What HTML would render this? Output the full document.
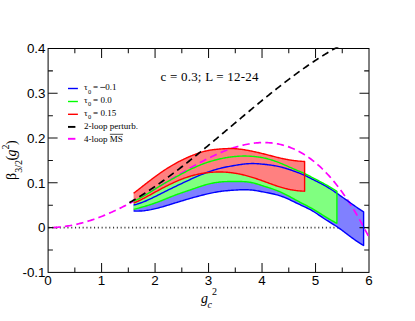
<!DOCTYPE html>
<html><head><meta charset="utf-8"><title>beta function</title>
<style>
html,body{margin:0;padding:0;background:#fff;}
svg{display:block;}
.sans{font-family:"Liberation Sans",sans-serif;font-size:13.4px;fill:#000;}
.serif{font-family:"Liberation Serif",serif;fill:#000;}
</style></head><body>
<svg width="415" height="321" viewBox="0 0 415 321">
<rect width="415" height="321" fill="#fff"/>
<clipPath id="c"><rect x="48.1" y="47.3" width="320.9" height="225.09999999999997"/></clipPath>
<g clip-path="url(#c)">
<path d="M48.1,227.62 H369.0" stroke="#3a3a3a" stroke-width="1.7" stroke-dasharray="1.1 2.7" stroke-dashoffset="-0.3" fill="none"/>
<path d="M133.60,205.00 L134.76,204.74 L135.91,204.46 L137.07,204.14 L138.22,203.79 L139.38,203.42 L140.53,203.03 L141.69,202.61 L142.85,202.17 L144.00,201.71 L145.16,201.23 L146.31,200.74 L147.47,200.23 L148.63,199.70 L149.78,199.16 L150.94,198.62 L152.09,198.06 L153.25,197.49 L154.40,196.92 L155.56,196.34 L156.72,195.76 L157.87,195.18 L159.03,194.59 L160.18,194.01 L161.34,193.43 L162.49,192.85 L163.65,192.27 L164.81,191.70 L165.96,191.12 L167.12,190.55 L168.27,189.98 L169.43,189.41 L170.58,188.85 L171.74,188.28 L172.90,187.72 L174.05,187.16 L175.21,186.60 L176.36,186.04 L177.52,185.48 L178.68,184.93 L179.83,184.37 L180.99,183.82 L182.14,183.27 L183.30,182.72 L184.45,182.18 L185.61,181.63 L186.77,181.09 L187.92,180.56 L189.08,180.02 L190.23,179.49 L191.39,178.97 L192.54,178.44 L193.70,177.92 L194.86,177.41 L196.01,176.90 L197.17,176.40 L198.32,175.91 L199.48,175.42 L200.64,174.94 L201.79,174.46 L202.95,174.00 L204.10,173.55 L205.26,173.10 L206.41,172.67 L207.57,172.24 L208.73,171.83 L209.88,171.43 L211.04,171.04 L212.19,170.66 L213.35,170.29 L214.50,169.93 L215.66,169.58 L216.82,169.25 L217.97,168.93 L219.13,168.62 L220.28,168.33 L221.44,168.05 L222.59,167.78 L223.75,167.52 L224.91,167.27 L226.06,167.03 L227.22,166.80 L228.37,166.57 L229.53,166.36 L230.69,166.15 L231.84,165.94 L233.00,165.74 L234.15,165.54 L235.31,165.35 L236.46,165.16 L237.62,164.97 L238.78,164.78 L239.93,164.61 L241.09,164.44 L242.24,164.28 L243.40,164.14 L244.55,164.01 L245.71,163.89 L246.87,163.78 L248.02,163.70 L249.18,163.63 L250.33,163.59 L251.49,163.56 L252.65,163.56 L253.80,163.57 L254.96,163.61 L256.11,163.65 L257.27,163.72 L258.42,163.79 L259.58,163.88 L260.74,163.97 L261.89,164.08 L263.05,164.19 L264.20,164.31 L265.36,164.44 L266.51,164.57 L267.67,164.70 L268.83,164.85 L269.98,165.00 L271.14,165.16 L272.29,165.33 L273.45,165.51 L274.61,165.70 L275.76,165.91 L276.92,166.13 L278.07,166.37 L279.23,166.62 L280.38,166.89 L281.54,167.18 L282.70,167.49 L283.85,167.82 L285.01,168.15 L286.16,168.51 L287.32,168.87 L288.47,169.25 L289.63,169.63 L290.79,170.02 L291.94,170.42 L293.10,170.83 L294.25,171.23 L295.41,171.65 L296.56,172.06 L297.72,172.48 L298.88,172.91 L300.03,173.36 L301.19,173.82 L302.34,174.30 L303.50,174.80 L304.66,175.33 L305.81,175.88 L306.97,176.45 L308.12,177.04 L309.28,177.63 L310.43,178.22 L311.59,178.80 L312.75,179.38 L313.90,179.95 L315.06,180.52 L316.21,181.09 L317.37,181.67 L318.52,182.25 L319.68,182.84 L320.84,183.44 L321.99,184.04 L323.15,184.67 L324.30,185.31 L325.46,185.96 L326.62,186.64 L327.77,187.33 L328.93,188.04 L330.08,188.77 L331.24,189.51 L332.39,190.26 L333.55,191.02 L334.71,191.80 L335.86,192.59 L337.02,193.38 L338.17,194.18 L339.33,194.99 L340.48,195.81 L341.64,196.62 L342.80,197.45 L343.95,198.27 L345.11,199.10 L346.26,199.93 L347.42,200.76 L348.57,201.58 L349.73,202.41 L350.89,203.23 L352.04,204.05 L353.20,204.86 L354.35,205.67 L355.51,206.47 L356.67,207.26 L357.82,208.05 L358.98,208.82 L360.13,209.58 L361.29,210.33 L362.44,211.07 L363.60,211.80 L363.60,245.50 L362.44,244.84 L361.29,244.16 L360.13,243.44 L358.98,242.70 L357.82,241.93 L356.67,241.15 L355.51,240.34 L354.35,239.51 L353.20,238.68 L352.04,237.83 L350.89,236.96 L349.73,236.10 L348.57,235.23 L347.42,234.35 L346.26,233.48 L345.11,232.60 L343.95,231.74 L342.80,230.88 L341.64,230.03 L340.48,229.19 L339.33,228.37 L338.17,227.56 L337.02,226.78 L335.86,226.01 L334.71,225.27 L333.55,224.54 L332.39,223.82 L331.24,223.10 L330.08,222.39 L328.93,221.68 L327.77,220.96 L326.62,220.24 L325.46,219.50 L324.30,218.74 L323.15,217.97 L321.99,217.19 L320.84,216.40 L319.68,215.61 L318.52,214.82 L317.37,214.03 L316.21,213.26 L315.06,212.51 L313.90,211.77 L312.75,211.06 L311.59,210.38 L310.43,209.73 L309.28,209.12 L308.12,208.55 L306.97,208.00 L305.81,207.46 L304.66,206.93 L303.50,206.39 L302.34,205.84 L301.19,205.29 L300.03,204.74 L298.88,204.18 L297.72,203.62 L296.56,203.06 L295.41,202.50 L294.25,201.94 L293.10,201.38 L291.94,200.82 L290.79,200.27 L289.63,199.73 L288.47,199.20 L287.32,198.68 L286.16,198.17 L285.01,197.68 L283.85,197.21 L282.70,196.76 L281.54,196.33 L280.38,195.93 L279.23,195.55 L278.07,195.20 L276.92,194.87 L275.76,194.56 L274.61,194.28 L273.45,194.01 L272.29,193.75 L271.14,193.50 L269.98,193.27 L268.83,193.04 L267.67,192.81 L266.51,192.59 L265.36,192.37 L264.20,192.15 L263.05,191.92 L261.89,191.70 L260.74,191.47 L259.58,191.26 L258.42,191.05 L257.27,190.84 L256.11,190.65 L254.96,190.47 L253.80,190.31 L252.65,190.16 L251.49,190.03 L250.33,189.93 L249.18,189.84 L248.02,189.78 L246.87,189.74 L245.71,189.71 L244.55,189.71 L243.40,189.72 L242.24,189.74 L241.09,189.78 L239.93,189.82 L238.78,189.88 L237.62,189.94 L236.46,190.01 L235.31,190.08 L234.15,190.15 L233.00,190.23 L231.84,190.31 L230.69,190.39 L229.53,190.48 L228.37,190.57 L227.22,190.68 L226.06,190.78 L224.91,190.90 L223.75,191.02 L222.59,191.16 L221.44,191.30 L220.28,191.46 L219.13,191.63 L217.97,191.81 L216.82,192.00 L215.66,192.21 L214.50,192.42 L213.35,192.64 L212.19,192.88 L211.04,193.12 L209.88,193.37 L208.73,193.63 L207.57,193.89 L206.41,194.16 L205.26,194.44 L204.10,194.72 L202.95,195.01 L201.79,195.30 L200.64,195.59 L199.48,195.89 L198.32,196.20 L197.17,196.51 L196.01,196.82 L194.86,197.13 L193.70,197.45 L192.54,197.78 L191.39,198.10 L190.23,198.43 L189.08,198.77 L187.92,199.10 L186.77,199.44 L185.61,199.78 L184.45,200.12 L183.30,200.47 L182.14,200.81 L180.99,201.16 L179.83,201.51 L178.68,201.87 L177.52,202.22 L176.36,202.58 L175.21,202.94 L174.05,203.29 L172.90,203.65 L171.74,204.01 L170.58,204.37 L169.43,204.73 L168.27,205.09 L167.12,205.44 L165.96,205.79 L164.81,206.13 L163.65,206.47 L162.49,206.80 L161.34,207.13 L160.18,207.45 L159.03,207.76 L157.87,208.06 L156.72,208.36 L155.56,208.64 L154.40,208.91 L153.25,209.17 L152.09,209.41 L150.94,209.65 L149.78,209.86 L148.63,210.07 L147.47,210.26 L146.31,210.43 L145.16,210.58 L144.00,210.72 L142.85,210.83 L141.69,210.93 L140.53,211.01 L139.38,211.06 L138.22,211.10 L137.07,211.11 L135.91,211.10 L134.76,211.06 L133.60,211.00 Z" fill="#8080ff"/>
<path d="M133.60,201.20 L134.62,200.76 L135.64,200.30 L136.66,199.82 L137.69,199.32 L138.71,198.81 L139.73,198.27 L140.75,197.72 L141.77,197.16 L142.79,196.58 L143.82,196.00 L144.84,195.40 L145.86,194.79 L146.88,194.17 L147.90,193.54 L148.92,192.91 L149.95,192.28 L150.97,191.64 L151.99,190.99 L153.01,190.35 L154.03,189.71 L155.05,189.06 L156.08,188.42 L157.10,187.78 L158.12,187.15 L159.14,186.52 L160.16,185.90 L161.18,185.29 L162.21,184.68 L163.23,184.08 L164.25,183.49 L165.27,182.90 L166.29,182.32 L167.31,181.75 L168.33,181.17 L169.36,180.60 L170.38,180.04 L171.40,179.47 L172.42,178.91 L173.44,178.35 L174.46,177.79 L175.49,177.23 L176.51,176.68 L177.53,176.12 L178.55,175.56 L179.57,175.01 L180.59,174.46 L181.62,173.91 L182.64,173.37 L183.66,172.83 L184.68,172.29 L185.70,171.76 L186.72,171.24 L187.75,170.72 L188.77,170.21 L189.79,169.70 L190.81,169.21 L191.83,168.72 L192.85,168.24 L193.87,167.76 L194.90,167.30 L195.92,166.84 L196.94,166.39 L197.96,165.96 L198.98,165.53 L200.00,165.11 L201.03,164.70 L202.05,164.30 L203.07,163.91 L204.09,163.53 L205.11,163.16 L206.13,162.80 L207.16,162.45 L208.18,162.12 L209.20,161.79 L210.22,161.47 L211.24,161.16 L212.26,160.87 L213.29,160.58 L214.31,160.30 L215.33,160.03 L216.35,159.77 L217.37,159.51 L218.39,159.27 L219.42,159.03 L220.44,158.80 L221.46,158.58 L222.48,158.37 L223.50,158.17 L224.52,157.97 L225.54,157.79 L226.57,157.61 L227.59,157.44 L228.61,157.28 L229.63,157.13 L230.65,156.99 L231.67,156.86 L232.70,156.74 L233.72,156.63 L234.74,156.52 L235.76,156.43 L236.78,156.35 L237.80,156.28 L238.83,156.22 L239.85,156.17 L240.87,156.13 L241.89,156.09 L242.91,156.07 L243.93,156.06 L244.96,156.06 L245.98,156.07 L247.00,156.09 L248.02,156.12 L249.04,156.16 L250.06,156.20 L251.08,156.26 L252.11,156.33 L253.13,156.41 L254.15,156.50 L255.17,156.60 L256.19,156.71 L257.21,156.84 L258.24,156.97 L259.26,157.12 L260.28,157.28 L261.30,157.46 L262.32,157.64 L263.34,157.84 L264.37,158.06 L265.39,158.29 L266.41,158.53 L267.43,158.79 L268.45,159.06 L269.47,159.35 L270.50,159.65 L271.52,159.96 L272.54,160.28 L273.56,160.62 L274.58,160.97 L275.60,161.33 L276.63,161.70 L277.65,162.08 L278.67,162.47 L279.69,162.88 L280.71,163.29 L281.73,163.71 L282.75,164.14 L283.78,164.58 L284.80,165.02 L285.82,165.47 L286.84,165.92 L287.86,166.37 L288.88,166.83 L289.91,167.28 L290.93,167.73 L291.95,168.18 L292.97,168.63 L293.99,169.07 L295.01,169.51 L296.04,169.93 L297.06,170.36 L298.08,170.78 L299.10,171.20 L300.12,171.63 L301.14,172.06 L302.17,172.50 L303.19,172.95 L304.21,173.42 L305.23,173.90 L306.25,174.40 L307.27,174.91 L308.29,175.42 L309.32,175.95 L310.34,176.47 L311.36,177.00 L312.38,177.53 L313.40,178.05 L314.42,178.58 L315.45,179.11 L316.47,179.64 L317.49,180.17 L318.51,180.71 L319.53,181.25 L320.55,181.79 L321.58,182.33 L322.60,182.88 L323.62,183.44 L324.64,184.00 L325.66,184.57 L326.68,185.14 L327.71,185.72 L328.73,186.31 L329.75,186.90 L330.77,187.50 L331.79,188.11 L332.81,188.73 L333.84,189.36 L334.86,190.00 L335.88,190.64 L336.90,191.30 L336.90,223.30 L335.88,222.79 L334.86,222.26 L333.84,221.72 L332.81,221.16 L331.79,220.59 L330.77,220.00 L329.75,219.40 L328.73,218.79 L327.71,218.17 L326.68,217.55 L325.66,216.91 L324.64,216.28 L323.62,215.63 L322.60,214.99 L321.58,214.35 L320.55,213.70 L319.53,213.06 L318.51,212.42 L317.49,211.79 L316.47,211.16 L315.45,210.54 L314.42,209.92 L313.40,209.32 L312.38,208.73 L311.36,208.15 L310.34,207.58 L309.32,207.03 L308.29,206.50 L307.27,205.97 L306.25,205.44 L305.23,204.92 L304.21,204.40 L303.19,203.87 L302.17,203.34 L301.14,202.80 L300.12,202.26 L299.10,201.72 L298.08,201.17 L297.06,200.62 L296.04,200.06 L295.01,199.51 L293.99,198.95 L292.97,198.39 L291.95,197.83 L290.93,197.27 L289.91,196.72 L288.88,196.17 L287.86,195.63 L286.84,195.09 L285.82,194.57 L284.80,194.05 L283.78,193.54 L282.75,193.05 L281.73,192.57 L280.71,192.11 L279.69,191.67 L278.67,191.24 L277.65,190.83 L276.63,190.43 L275.60,190.05 L274.58,189.67 L273.56,189.31 L272.54,188.96 L271.52,188.62 L270.50,188.28 L269.47,187.94 L268.45,187.61 L267.43,187.28 L266.41,186.96 L265.39,186.63 L264.37,186.29 L263.34,185.96 L262.32,185.63 L261.30,185.29 L260.28,184.97 L259.26,184.64 L258.24,184.33 L257.21,184.02 L256.19,183.73 L255.17,183.45 L254.15,183.18 L253.13,182.94 L252.11,182.71 L251.08,182.50 L250.06,182.31 L249.04,182.15 L248.02,182.01 L247.00,181.89 L245.98,181.79 L244.96,181.71 L243.93,181.65 L242.91,181.60 L241.89,181.56 L240.87,181.53 L239.85,181.51 L238.83,181.50 L237.80,181.50 L236.78,181.50 L235.76,181.50 L234.74,181.50 L233.72,181.50 L232.70,181.50 L231.67,181.51 L230.65,181.51 L229.63,181.52 L228.61,181.54 L227.59,181.56 L226.57,181.59 L225.54,181.62 L224.52,181.67 L223.50,181.72 L222.48,181.79 L221.46,181.87 L220.44,181.96 L219.42,182.06 L218.39,182.18 L217.37,182.32 L216.35,182.47 L215.33,182.63 L214.31,182.81 L213.29,183.00 L212.26,183.20 L211.24,183.42 L210.22,183.64 L209.20,183.88 L208.18,184.14 L207.16,184.40 L206.13,184.68 L205.11,184.97 L204.09,185.27 L203.07,185.58 L202.05,185.89 L201.03,186.22 L200.00,186.55 L198.98,186.89 L197.96,187.24 L196.94,187.59 L195.92,187.94 L194.90,188.30 L193.87,188.65 L192.85,189.01 L191.83,189.37 L190.81,189.72 L189.79,190.07 L188.77,190.42 L187.75,190.77 L186.72,191.11 L185.70,191.46 L184.68,191.80 L183.66,192.14 L182.64,192.49 L181.62,192.84 L180.59,193.19 L179.57,193.54 L178.55,193.90 L177.53,194.27 L176.51,194.64 L175.49,195.02 L174.46,195.40 L173.44,195.80 L172.42,196.20 L171.40,196.60 L170.38,197.01 L169.36,197.43 L168.33,197.84 L167.31,198.26 L166.29,198.68 L165.27,199.10 L164.25,199.51 L163.23,199.92 L162.21,200.33 L161.18,200.74 L160.16,201.14 L159.14,201.53 L158.12,201.91 L157.10,202.29 L156.08,202.66 L155.05,203.03 L154.03,203.39 L153.01,203.74 L151.99,204.09 L150.97,204.43 L149.95,204.76 L148.92,205.09 L147.90,205.41 L146.88,205.73 L145.86,206.04 L144.84,206.35 L143.82,206.65 L142.79,206.95 L141.77,207.24 L140.75,207.52 L139.73,207.80 L138.71,208.08 L137.69,208.35 L136.66,208.62 L135.64,208.88 L134.62,209.14 L133.60,209.40 Z" fill="#80ff80"/>
<path d="M133.60,193.30 L134.46,192.63 L135.32,191.96 L136.18,191.29 L137.04,190.62 L137.90,189.95 L138.76,189.28 L139.62,188.61 L140.47,187.93 L141.33,187.26 L142.19,186.59 L143.05,185.92 L143.91,185.25 L144.77,184.58 L145.63,183.91 L146.49,183.24 L147.35,182.58 L148.21,181.92 L149.07,181.26 L149.93,180.60 L150.79,179.95 L151.65,179.30 L152.50,178.65 L153.36,178.01 L154.22,177.37 L155.08,176.74 L155.94,176.11 L156.80,175.48 L157.66,174.86 L158.52,174.25 L159.38,173.64 L160.24,173.03 L161.10,172.44 L161.96,171.84 L162.82,171.26 L163.68,170.68 L164.53,170.11 L165.39,169.54 L166.25,168.98 L167.11,168.43 L167.97,167.88 L168.83,167.35 L169.69,166.82 L170.55,166.29 L171.41,165.77 L172.27,165.27 L173.13,164.76 L173.99,164.27 L174.85,163.79 L175.71,163.31 L176.56,162.84 L177.42,162.38 L178.28,161.92 L179.14,161.48 L180.00,161.04 L180.86,160.60 L181.72,160.18 L182.58,159.76 L183.44,159.35 L184.30,158.94 L185.16,158.54 L186.02,158.15 L186.88,157.76 L187.74,157.38 L188.59,157.00 L189.45,156.63 L190.31,156.27 L191.17,155.91 L192.03,155.55 L192.89,155.21 L193.75,154.86 L194.61,154.53 L195.47,154.20 L196.33,153.88 L197.19,153.57 L198.05,153.27 L198.91,152.98 L199.77,152.69 L200.63,152.42 L201.48,152.16 L202.34,151.91 L203.20,151.67 L204.06,151.44 L204.92,151.22 L205.78,151.01 L206.64,150.82 L207.50,150.64 L208.36,150.47 L209.22,150.31 L210.08,150.16 L210.94,150.02 L211.80,149.89 L212.66,149.77 L213.51,149.65 L214.37,149.55 L215.23,149.45 L216.09,149.36 L216.95,149.27 L217.81,149.19 L218.67,149.11 L219.53,149.04 L220.39,148.97 L221.25,148.91 L222.11,148.85 L222.97,148.79 L223.83,148.74 L224.69,148.69 L225.54,148.65 L226.40,148.62 L227.26,148.59 L228.12,148.57 L228.98,148.56 L229.84,148.56 L230.70,148.56 L231.56,148.57 L232.42,148.59 L233.28,148.62 L234.14,148.65 L235.00,148.70 L235.86,148.76 L236.72,148.82 L237.57,148.90 L238.43,148.98 L239.29,149.08 L240.15,149.18 L241.01,149.29 L241.87,149.41 L242.73,149.53 L243.59,149.66 L244.45,149.80 L245.31,149.94 L246.17,150.09 L247.03,150.24 L247.89,150.40 L248.75,150.56 L249.61,150.72 L250.46,150.89 L251.32,151.06 L252.18,151.24 L253.04,151.42 L253.90,151.60 L254.76,151.78 L255.62,151.97 L256.48,152.16 L257.34,152.36 L258.20,152.55 L259.06,152.75 L259.92,152.95 L260.78,153.16 L261.64,153.37 L262.49,153.58 L263.35,153.79 L264.21,154.00 L265.07,154.22 L265.93,154.44 L266.79,154.66 L267.65,154.88 L268.51,155.10 L269.37,155.33 L270.23,155.55 L271.09,155.78 L271.95,156.00 L272.81,156.22 L273.67,156.44 L274.52,156.66 L275.38,156.88 L276.24,157.10 L277.10,157.31 L277.96,157.52 L278.82,157.72 L279.68,157.93 L280.54,158.12 L281.40,158.32 L282.26,158.51 L283.12,158.69 L283.98,158.87 L284.84,159.04 L285.70,159.21 L286.55,159.37 L287.41,159.53 L288.27,159.69 L289.13,159.84 L289.99,159.98 L290.85,160.12 L291.71,160.25 L292.57,160.37 L293.43,160.49 L294.29,160.61 L295.15,160.72 L296.01,160.82 L296.87,160.92 L297.73,161.01 L298.58,161.09 L299.44,161.17 L300.30,161.24 L301.16,161.31 L302.02,161.37 L302.88,161.42 L303.74,161.46 L304.60,161.50 L304.60,191.20 L303.74,191.17 L302.88,191.14 L302.02,191.10 L301.16,191.04 L300.30,190.98 L299.44,190.91 L298.58,190.83 L297.73,190.74 L296.87,190.64 L296.01,190.54 L295.15,190.42 L294.29,190.30 L293.43,190.16 L292.57,190.02 L291.71,189.87 L290.85,189.71 L289.99,189.55 L289.13,189.37 L288.27,189.19 L287.41,188.99 L286.55,188.79 L285.70,188.58 L284.84,188.37 L283.98,188.14 L283.12,187.91 L282.26,187.67 L281.40,187.42 L280.54,187.16 L279.68,186.90 L278.82,186.63 L277.96,186.35 L277.10,186.07 L276.24,185.77 L275.38,185.48 L274.52,185.18 L273.67,184.87 L272.81,184.57 L271.95,184.25 L271.09,183.94 L270.23,183.63 L269.37,183.31 L268.51,182.99 L267.65,182.67 L266.79,182.36 L265.93,182.04 L265.07,181.73 L264.21,181.41 L263.35,181.10 L262.49,180.80 L261.64,180.49 L260.78,180.19 L259.92,179.89 L259.06,179.60 L258.20,179.30 L257.34,179.01 L256.48,178.73 L255.62,178.45 L254.76,178.17 L253.90,177.89 L253.04,177.62 L252.18,177.36 L251.32,177.09 L250.46,176.84 L249.61,176.58 L248.75,176.34 L247.89,176.09 L247.03,175.86 L246.17,175.62 L245.31,175.40 L244.45,175.18 L243.59,174.96 L242.73,174.75 L241.87,174.55 L241.01,174.36 L240.15,174.17 L239.29,173.99 L238.43,173.82 L237.57,173.65 L236.72,173.49 L235.86,173.34 L235.00,173.20 L234.14,173.07 L233.28,172.94 L232.42,172.82 L231.56,172.72 L230.70,172.61 L229.84,172.52 L228.98,172.44 L228.12,172.36 L227.26,172.29 L226.40,172.23 L225.54,172.17 L224.69,172.13 L223.83,172.09 L222.97,172.06 L222.11,172.03 L221.25,172.01 L220.39,172.00 L219.53,172.00 L218.67,172.00 L217.81,172.01 L216.95,172.03 L216.09,172.05 L215.23,172.08 L214.37,172.12 L213.51,172.16 L212.66,172.22 L211.80,172.28 L210.94,172.34 L210.08,172.42 L209.22,172.50 L208.36,172.58 L207.50,172.68 L206.64,172.78 L205.78,172.89 L204.92,173.01 L204.06,173.14 L203.20,173.27 L202.34,173.41 L201.48,173.56 L200.63,173.71 L199.77,173.88 L198.91,174.05 L198.05,174.23 L197.19,174.42 L196.33,174.61 L195.47,174.81 L194.61,175.03 L193.75,175.24 L192.89,175.47 L192.03,175.71 L191.17,175.95 L190.31,176.21 L189.45,176.47 L188.59,176.74 L187.74,177.01 L186.88,177.30 L186.02,177.59 L185.16,177.89 L184.30,178.20 L183.44,178.52 L182.58,178.84 L181.72,179.18 L180.86,179.51 L180.00,179.86 L179.14,180.21 L178.28,180.57 L177.42,180.94 L176.56,181.31 L175.71,181.69 L174.85,182.07 L173.99,182.46 L173.13,182.86 L172.27,183.26 L171.41,183.66 L170.55,184.08 L169.69,184.49 L168.83,184.92 L167.97,185.34 L167.11,185.77 L166.25,186.21 L165.39,186.65 L164.53,187.09 L163.68,187.54 L162.82,187.99 L161.96,188.45 L161.10,188.91 L160.24,189.37 L159.38,189.84 L158.52,190.30 L157.66,190.77 L156.80,191.25 L155.94,191.72 L155.08,192.19 L154.22,192.67 L153.36,193.14 L152.50,193.62 L151.65,194.09 L150.79,194.57 L149.93,195.04 L149.07,195.51 L148.21,195.98 L147.35,196.44 L146.49,196.91 L145.63,197.37 L144.77,197.82 L143.91,198.27 L143.05,198.72 L142.19,199.16 L141.33,199.59 L140.47,200.02 L139.62,200.45 L138.76,200.86 L137.90,201.27 L137.04,201.68 L136.18,202.07 L135.32,202.46 L134.46,202.83 L133.60,203.20 Z" fill="#ff8080"/>
</g>
<rect x="48.1" y="48.5" width="320.9" height="223.89999999999998" fill="none" stroke="#000" stroke-width="1"/>
<path d="M74.84,272.4 v-4.8 M74.84,48.5 v4.8 M101.58,272.4 v-9.5 M101.58,48.5 v9.5 M128.32,272.4 v-4.8 M128.32,48.5 v4.8 M155.07,272.4 v-9.5 M155.07,48.5 v9.5 M181.81,272.4 v-4.8 M181.81,48.5 v4.8 M208.55,272.4 v-9.5 M208.55,48.5 v9.5 M235.29,272.4 v-4.8 M235.29,48.5 v4.8 M262.03,272.4 v-9.5 M262.03,48.5 v9.5 M288.77,272.4 v-4.8 M288.77,48.5 v4.8 M315.52,272.4 v-9.5 M315.52,48.5 v9.5 M342.26,272.4 v-4.8 M342.26,48.5 v4.8 M48.1,250.01 h4.8 M369.0,250.01 h-4.8 M48.1,227.62 h9.5 M369.0,227.62 h-9.5 M48.1,205.23 h4.8 M369.0,205.23 h-4.8 M48.1,182.84 h9.5 M369.0,182.84 h-9.5 M48.1,160.45 h4.8 M369.0,160.45 h-4.8 M48.1,138.06 h9.5 M369.0,138.06 h-9.5 M48.1,115.67 h4.8 M369.0,115.67 h-4.8 M48.1,93.28 h9.5 M369.0,93.28 h-9.5 M48.1,70.89 h4.8 M369.0,70.89 h-4.8" stroke="#111" stroke-width="1.05" fill="none"/>
<g clip-path="url(#c)">
<path d="M49.30,227.61 L50.64,227.59 L51.97,227.56 L53.31,227.50 L54.65,227.44 L55.99,227.36 L57.32,227.26 L58.66,227.15 L60.00,227.02 L61.34,226.88 L62.67,226.73 L64.01,226.56 L65.35,226.37 L66.69,226.18 L68.03,225.96 L69.36,225.74 L70.70,225.50 L72.04,225.25 L73.38,224.98 L74.71,224.70 L76.05,224.40 L77.39,224.10 L78.73,223.78 L80.06,223.44 L81.40,223.10 L82.74,222.74 L84.08,222.37 L85.41,221.99 L86.75,221.59 L88.09,221.18 L89.43,220.76 L90.77,220.33 L92.10,219.89 L93.44,219.43 L94.78,218.96 L96.12,218.48 L97.45,218.00 L98.79,217.50 L100.13,216.98 L101.47,216.46 L102.80,215.93 L104.14,215.39 L105.48,214.83 L106.82,214.27 L108.16,213.70 L109.49,213.12 L110.83,212.52 L112.17,211.92 L113.51,211.31 L114.84,210.69 L116.18,210.06 L117.52,209.43 L118.86,208.78 L120.19,208.13 L121.53,207.47 L122.87,206.80 L124.21,206.12 L125.54,205.43 L126.88,204.74 L128.22,204.04 L129.56,203.34 L130.90,202.63 L132.23,201.91 L133.57,201.18 L134.91,200.45 L136.25,199.71 L137.58,198.97 L138.92,198.22 L140.26,197.47 L141.60,196.71 L142.93,195.95 L144.27,195.18 L145.61,194.41 L146.95,193.64 L148.29,192.86 L149.62,192.08 L150.96,191.29 L152.30,190.51 L153.64,189.71 L154.97,188.92 L156.31,188.12 L157.65,187.33 L158.99,186.53 L160.32,185.73 L161.66,184.92 L163.00,184.12 L164.34,183.32 L165.67,182.51 L167.01,181.71 L168.35,180.90 L169.69,180.10 L171.03,179.30 L172.36,178.49 L173.70,177.69 L175.04,176.89 L176.38,176.10 L177.71,175.30 L179.05,174.51 L180.39,173.71 L181.73,172.93 L183.06,172.14 L184.40,171.36 L185.74,170.58 L187.08,169.81 L188.42,169.04 L189.75,168.27 L191.09,167.51 L192.43,166.76 L193.77,166.01 L195.10,165.27 L196.44,164.53 L197.78,163.80 L199.12,163.08 L200.45,162.36 L201.79,161.65 L203.13,160.95 L204.47,160.25 L205.80,159.57 L207.14,158.89 L208.48,158.22 L209.82,157.57 L211.16,156.92 L212.49,156.28 L213.83,155.65 L215.17,155.03 L216.51,154.42 L217.84,153.83 L219.18,153.24 L220.52,152.67 L221.86,152.11 L223.19,151.56 L224.53,151.03 L225.87,150.51 L227.21,150.00 L228.55,149.50 L229.88,149.02 L231.22,148.56 L232.56,148.10 L233.90,147.67 L235.23,147.25 L236.57,146.84 L237.91,146.45 L239.25,146.08 L240.58,145.73 L241.92,145.39 L243.26,145.07 L244.60,144.77 L245.93,144.48 L247.27,144.21 L248.61,143.97 L249.95,143.74 L251.29,143.53 L252.62,143.34 L253.96,143.17 L255.30,143.02 L256.64,142.90 L257.97,142.79 L259.31,142.71 L260.65,142.64 L261.99,142.60 L263.32,142.58 L264.66,142.59 L266.00,142.61 L267.34,142.66 L268.68,142.74 L270.01,142.84 L271.35,142.96 L272.69,143.11 L274.03,143.28 L275.36,143.48 L276.70,143.70 L278.04,143.95 L279.38,144.23 L280.71,144.53 L282.05,144.86 L283.39,145.22 L284.73,145.60 L286.06,146.01 L287.40,146.46 L288.74,146.92 L290.08,147.42 L291.42,147.95 L292.75,148.50 L294.09,149.09 L295.43,149.71 L296.77,150.35 L298.10,151.03 L299.44,151.74 L300.78,152.48 L302.12,153.25 L303.45,154.05 L304.79,154.88 L306.13,155.75 L307.47,156.65 L308.81,157.58 L310.14,158.54 L311.48,159.54 L312.82,160.57 L314.16,161.64 L315.49,162.73 L316.83,163.87 L318.17,165.04 L319.51,166.24 L320.84,167.48 L322.18,168.75 L323.52,170.06 L324.86,171.41 L326.19,172.79 L327.53,174.21 L328.87,175.66 L330.21,177.15 L331.55,178.68 L332.88,180.25 L334.22,181.85 L335.56,183.49 L336.90,185.17 L338.23,186.89 L339.57,188.64 L340.91,190.44 L342.25,192.27 L343.58,194.14 L344.92,196.05 L346.26,198.00 L347.60,199.99 L348.94,202.02 L350.27,204.09 L351.61,206.20 L352.95,208.35 L354.29,210.54 L355.62,212.77 L356.96,215.04 L358.30,217.35 L359.64,219.70 L360.97,222.10 L362.31,224.53 L363.65,227.01 L364.99,229.53 L366.32,232.09 L367.66,234.69 L369.00,237.34" fill="none" stroke="#ff00ff" stroke-width="1.7" stroke-dasharray="7.3 4.25" stroke-dashoffset="7.4"/>
<path d="M133.60,205.00 L134.76,204.74 L135.91,204.46 L137.07,204.14 L138.22,203.79 L139.38,203.42 L140.53,203.03 L141.69,202.61 L142.85,202.17 L144.00,201.71 L145.16,201.23 L146.31,200.74 L147.47,200.23 L148.63,199.70 L149.78,199.16 L150.94,198.62 L152.09,198.06 L153.25,197.49 L154.40,196.92 L155.56,196.34 L156.72,195.76 L157.87,195.18 L159.03,194.59 L160.18,194.01 L161.34,193.43 L162.49,192.85 L163.65,192.27 L164.81,191.70 L165.96,191.12 L167.12,190.55 L168.27,189.98 L169.43,189.41 L170.58,188.85 L171.74,188.28 L172.90,187.72 L174.05,187.16 L175.21,186.60 L176.36,186.04 L177.52,185.48 L178.68,184.93 L179.83,184.37 L180.99,183.82 L182.14,183.27 L183.30,182.72 L184.45,182.18 L185.61,181.63 L186.77,181.09 L187.92,180.56 L189.08,180.02 L190.23,179.49 L191.39,178.97 L192.54,178.44 L193.70,177.92 L194.86,177.41 L196.01,176.90 L197.17,176.40 L198.32,175.91 L199.48,175.42 L200.64,174.94 L201.79,174.46 L202.95,174.00 L204.10,173.55 L205.26,173.10 L206.41,172.67 L207.57,172.24 L208.73,171.83 L209.88,171.43 L211.04,171.04 L212.19,170.66 L213.35,170.29 L214.50,169.93 L215.66,169.58 L216.82,169.25 L217.97,168.93 L219.13,168.62 L220.28,168.33 L221.44,168.05 L222.59,167.78 L223.75,167.52 L224.91,167.27 L226.06,167.03 L227.22,166.80 L228.37,166.57 L229.53,166.36 L230.69,166.15 L231.84,165.94 L233.00,165.74 L234.15,165.54 L235.31,165.35 L236.46,165.16 L237.62,164.97 L238.78,164.78 L239.93,164.61 L241.09,164.44 L242.24,164.28 L243.40,164.14 L244.55,164.01 L245.71,163.89 L246.87,163.78 L248.02,163.70 L249.18,163.63 L250.33,163.59 L251.49,163.56 L252.65,163.56 L253.80,163.57 L254.96,163.61 L256.11,163.65 L257.27,163.72 L258.42,163.79 L259.58,163.88 L260.74,163.97 L261.89,164.08 L263.05,164.19 L264.20,164.31 L265.36,164.44 L266.51,164.57 L267.67,164.70 L268.83,164.85 L269.98,165.00 L271.14,165.16 L272.29,165.33 L273.45,165.51 L274.61,165.70 L275.76,165.91 L276.92,166.13 L278.07,166.37 L279.23,166.62 L280.38,166.89 L281.54,167.18 L282.70,167.49 L283.85,167.82 L285.01,168.15 L286.16,168.51 L287.32,168.87 L288.47,169.25 L289.63,169.63 L290.79,170.02 L291.94,170.42 L293.10,170.83 L294.25,171.23 L295.41,171.65 L296.56,172.06 L297.72,172.48 L298.88,172.91 L300.03,173.36 L301.19,173.82 L302.34,174.30 L303.50,174.80 L304.66,175.33 L305.81,175.88 L306.97,176.45 L308.12,177.04 L309.28,177.63 L310.43,178.22 L311.59,178.80 L312.75,179.38 L313.90,179.95 L315.06,180.52 L316.21,181.09 L317.37,181.67 L318.52,182.25 L319.68,182.84 L320.84,183.44 L321.99,184.04 L323.15,184.67 L324.30,185.31 L325.46,185.96 L326.62,186.64 L327.77,187.33 L328.93,188.04 L330.08,188.77 L331.24,189.51 L332.39,190.26 L333.55,191.02 L334.71,191.80 L335.86,192.59 L337.02,193.38 L338.17,194.18 L339.33,194.99 L340.48,195.81 L341.64,196.62 L342.80,197.45 L343.95,198.27 L345.11,199.10 L346.26,199.93 L347.42,200.76 L348.57,201.58 L349.73,202.41 L350.89,203.23 L352.04,204.05 L353.20,204.86 L354.35,205.67 L355.51,206.47 L356.67,207.26 L357.82,208.05 L358.98,208.82 L360.13,209.58 L361.29,210.33 L362.44,211.07 L363.60,211.80 L363.60,245.50 L362.44,244.84 L361.29,244.16 L360.13,243.44 L358.98,242.70 L357.82,241.93 L356.67,241.15 L355.51,240.34 L354.35,239.51 L353.20,238.68 L352.04,237.83 L350.89,236.96 L349.73,236.10 L348.57,235.23 L347.42,234.35 L346.26,233.48 L345.11,232.60 L343.95,231.74 L342.80,230.88 L341.64,230.03 L340.48,229.19 L339.33,228.37 L338.17,227.56 L337.02,226.78 L335.86,226.01 L334.71,225.27 L333.55,224.54 L332.39,223.82 L331.24,223.10 L330.08,222.39 L328.93,221.68 L327.77,220.96 L326.62,220.24 L325.46,219.50 L324.30,218.74 L323.15,217.97 L321.99,217.19 L320.84,216.40 L319.68,215.61 L318.52,214.82 L317.37,214.03 L316.21,213.26 L315.06,212.51 L313.90,211.77 L312.75,211.06 L311.59,210.38 L310.43,209.73 L309.28,209.12 L308.12,208.55 L306.97,208.00 L305.81,207.46 L304.66,206.93 L303.50,206.39 L302.34,205.84 L301.19,205.29 L300.03,204.74 L298.88,204.18 L297.72,203.62 L296.56,203.06 L295.41,202.50 L294.25,201.94 L293.10,201.38 L291.94,200.82 L290.79,200.27 L289.63,199.73 L288.47,199.20 L287.32,198.68 L286.16,198.17 L285.01,197.68 L283.85,197.21 L282.70,196.76 L281.54,196.33 L280.38,195.93 L279.23,195.55 L278.07,195.20 L276.92,194.87 L275.76,194.56 L274.61,194.28 L273.45,194.01 L272.29,193.75 L271.14,193.50 L269.98,193.27 L268.83,193.04 L267.67,192.81 L266.51,192.59 L265.36,192.37 L264.20,192.15 L263.05,191.92 L261.89,191.70 L260.74,191.47 L259.58,191.26 L258.42,191.05 L257.27,190.84 L256.11,190.65 L254.96,190.47 L253.80,190.31 L252.65,190.16 L251.49,190.03 L250.33,189.93 L249.18,189.84 L248.02,189.78 L246.87,189.74 L245.71,189.71 L244.55,189.71 L243.40,189.72 L242.24,189.74 L241.09,189.78 L239.93,189.82 L238.78,189.88 L237.62,189.94 L236.46,190.01 L235.31,190.08 L234.15,190.15 L233.00,190.23 L231.84,190.31 L230.69,190.39 L229.53,190.48 L228.37,190.57 L227.22,190.68 L226.06,190.78 L224.91,190.90 L223.75,191.02 L222.59,191.16 L221.44,191.30 L220.28,191.46 L219.13,191.63 L217.97,191.81 L216.82,192.00 L215.66,192.21 L214.50,192.42 L213.35,192.64 L212.19,192.88 L211.04,193.12 L209.88,193.37 L208.73,193.63 L207.57,193.89 L206.41,194.16 L205.26,194.44 L204.10,194.72 L202.95,195.01 L201.79,195.30 L200.64,195.59 L199.48,195.89 L198.32,196.20 L197.17,196.51 L196.01,196.82 L194.86,197.13 L193.70,197.45 L192.54,197.78 L191.39,198.10 L190.23,198.43 L189.08,198.77 L187.92,199.10 L186.77,199.44 L185.61,199.78 L184.45,200.12 L183.30,200.47 L182.14,200.81 L180.99,201.16 L179.83,201.51 L178.68,201.87 L177.52,202.22 L176.36,202.58 L175.21,202.94 L174.05,203.29 L172.90,203.65 L171.74,204.01 L170.58,204.37 L169.43,204.73 L168.27,205.09 L167.12,205.44 L165.96,205.79 L164.81,206.13 L163.65,206.47 L162.49,206.80 L161.34,207.13 L160.18,207.45 L159.03,207.76 L157.87,208.06 L156.72,208.36 L155.56,208.64 L154.40,208.91 L153.25,209.17 L152.09,209.41 L150.94,209.65 L149.78,209.86 L148.63,210.07 L147.47,210.26 L146.31,210.43 L145.16,210.58 L144.00,210.72 L142.85,210.83 L141.69,210.93 L140.53,211.01 L139.38,211.06 L138.22,211.10 L137.07,211.11 L135.91,211.10 L134.76,211.06 L133.60,211.00" fill="none" stroke-linejoin="round" stroke="#0000ff" stroke-width="1.4"/>
<path d="M133.60,201.20 L134.62,200.76 L135.64,200.30 L136.66,199.82 L137.69,199.32 L138.71,198.81 L139.73,198.27 L140.75,197.72 L141.77,197.16 L142.79,196.58 L143.82,196.00 L144.84,195.40 L145.86,194.79 L146.88,194.17 L147.90,193.54 L148.92,192.91 L149.95,192.28 L150.97,191.64 L151.99,190.99 L153.01,190.35 L154.03,189.71 L155.05,189.06 L156.08,188.42 L157.10,187.78 L158.12,187.15 L159.14,186.52 L160.16,185.90 L161.18,185.29 L162.21,184.68 L163.23,184.08 L164.25,183.49 L165.27,182.90 L166.29,182.32 L167.31,181.75 L168.33,181.17 L169.36,180.60 L170.38,180.04 L171.40,179.47 L172.42,178.91 L173.44,178.35 L174.46,177.79 L175.49,177.23 L176.51,176.68 L177.53,176.12 L178.55,175.56 L179.57,175.01 L180.59,174.46 L181.62,173.91 L182.64,173.37 L183.66,172.83 L184.68,172.29 L185.70,171.76 L186.72,171.24 L187.75,170.72 L188.77,170.21 L189.79,169.70 L190.81,169.21 L191.83,168.72 L192.85,168.24 L193.87,167.76 L194.90,167.30 L195.92,166.84 L196.94,166.39 L197.96,165.96 L198.98,165.53 L200.00,165.11 L201.03,164.70 L202.05,164.30 L203.07,163.91 L204.09,163.53 L205.11,163.16 L206.13,162.80 L207.16,162.45 L208.18,162.12 L209.20,161.79 L210.22,161.47 L211.24,161.16 L212.26,160.87 L213.29,160.58 L214.31,160.30 L215.33,160.03 L216.35,159.77 L217.37,159.51 L218.39,159.27 L219.42,159.03 L220.44,158.80 L221.46,158.58 L222.48,158.37 L223.50,158.17 L224.52,157.97 L225.54,157.79 L226.57,157.61 L227.59,157.44 L228.61,157.28 L229.63,157.13 L230.65,156.99 L231.67,156.86 L232.70,156.74 L233.72,156.63 L234.74,156.52 L235.76,156.43 L236.78,156.35 L237.80,156.28 L238.83,156.22 L239.85,156.17 L240.87,156.13 L241.89,156.09 L242.91,156.07 L243.93,156.06 L244.96,156.06 L245.98,156.07 L247.00,156.09 L248.02,156.12 L249.04,156.16 L250.06,156.20 L251.08,156.26 L252.11,156.33 L253.13,156.41 L254.15,156.50 L255.17,156.60 L256.19,156.71 L257.21,156.84 L258.24,156.97 L259.26,157.12 L260.28,157.28 L261.30,157.46 L262.32,157.64 L263.34,157.84 L264.37,158.06 L265.39,158.29 L266.41,158.53 L267.43,158.79 L268.45,159.06 L269.47,159.35 L270.50,159.65 L271.52,159.96 L272.54,160.28 L273.56,160.62 L274.58,160.97 L275.60,161.33 L276.63,161.70 L277.65,162.08 L278.67,162.47 L279.69,162.88 L280.71,163.29 L281.73,163.71 L282.75,164.14 L283.78,164.58 L284.80,165.02 L285.82,165.47 L286.84,165.92 L287.86,166.37 L288.88,166.83 L289.91,167.28 L290.93,167.73 L291.95,168.18 L292.97,168.63 L293.99,169.07 L295.01,169.51 L296.04,169.93 L297.06,170.36 L298.08,170.78 L299.10,171.20 L300.12,171.63 L301.14,172.06 L302.17,172.50 L303.19,172.95 L304.21,173.42 L305.23,173.90 L306.25,174.40 L307.27,174.91 L308.29,175.42 L309.32,175.95 L310.34,176.47 L311.36,177.00 L312.38,177.53 L313.40,178.05 L314.42,178.58 L315.45,179.11 L316.47,179.64 L317.49,180.17 L318.51,180.71 L319.53,181.25 L320.55,181.79 L321.58,182.33 L322.60,182.88 L323.62,183.44 L324.64,184.00 L325.66,184.57 L326.68,185.14 L327.71,185.72 L328.73,186.31 L329.75,186.90 L330.77,187.50 L331.79,188.11 L332.81,188.73 L333.84,189.36 L334.86,190.00 L335.88,190.64 L336.90,191.30 L336.90,223.30 L335.88,222.79 L334.86,222.26 L333.84,221.72 L332.81,221.16 L331.79,220.59 L330.77,220.00 L329.75,219.40 L328.73,218.79 L327.71,218.17 L326.68,217.55 L325.66,216.91 L324.64,216.28 L323.62,215.63 L322.60,214.99 L321.58,214.35 L320.55,213.70 L319.53,213.06 L318.51,212.42 L317.49,211.79 L316.47,211.16 L315.45,210.54 L314.42,209.92 L313.40,209.32 L312.38,208.73 L311.36,208.15 L310.34,207.58 L309.32,207.03 L308.29,206.50 L307.27,205.97 L306.25,205.44 L305.23,204.92 L304.21,204.40 L303.19,203.87 L302.17,203.34 L301.14,202.80 L300.12,202.26 L299.10,201.72 L298.08,201.17 L297.06,200.62 L296.04,200.06 L295.01,199.51 L293.99,198.95 L292.97,198.39 L291.95,197.83 L290.93,197.27 L289.91,196.72 L288.88,196.17 L287.86,195.63 L286.84,195.09 L285.82,194.57 L284.80,194.05 L283.78,193.54 L282.75,193.05 L281.73,192.57 L280.71,192.11 L279.69,191.67 L278.67,191.24 L277.65,190.83 L276.63,190.43 L275.60,190.05 L274.58,189.67 L273.56,189.31 L272.54,188.96 L271.52,188.62 L270.50,188.28 L269.47,187.94 L268.45,187.61 L267.43,187.28 L266.41,186.96 L265.39,186.63 L264.37,186.29 L263.34,185.96 L262.32,185.63 L261.30,185.29 L260.28,184.97 L259.26,184.64 L258.24,184.33 L257.21,184.02 L256.19,183.73 L255.17,183.45 L254.15,183.18 L253.13,182.94 L252.11,182.71 L251.08,182.50 L250.06,182.31 L249.04,182.15 L248.02,182.01 L247.00,181.89 L245.98,181.79 L244.96,181.71 L243.93,181.65 L242.91,181.60 L241.89,181.56 L240.87,181.53 L239.85,181.51 L238.83,181.50 L237.80,181.50 L236.78,181.50 L235.76,181.50 L234.74,181.50 L233.72,181.50 L232.70,181.50 L231.67,181.51 L230.65,181.51 L229.63,181.52 L228.61,181.54 L227.59,181.56 L226.57,181.59 L225.54,181.62 L224.52,181.67 L223.50,181.72 L222.48,181.79 L221.46,181.87 L220.44,181.96 L219.42,182.06 L218.39,182.18 L217.37,182.32 L216.35,182.47 L215.33,182.63 L214.31,182.81 L213.29,183.00 L212.26,183.20 L211.24,183.42 L210.22,183.64 L209.20,183.88 L208.18,184.14 L207.16,184.40 L206.13,184.68 L205.11,184.97 L204.09,185.27 L203.07,185.58 L202.05,185.89 L201.03,186.22 L200.00,186.55 L198.98,186.89 L197.96,187.24 L196.94,187.59 L195.92,187.94 L194.90,188.30 L193.87,188.65 L192.85,189.01 L191.83,189.37 L190.81,189.72 L189.79,190.07 L188.77,190.42 L187.75,190.77 L186.72,191.11 L185.70,191.46 L184.68,191.80 L183.66,192.14 L182.64,192.49 L181.62,192.84 L180.59,193.19 L179.57,193.54 L178.55,193.90 L177.53,194.27 L176.51,194.64 L175.49,195.02 L174.46,195.40 L173.44,195.80 L172.42,196.20 L171.40,196.60 L170.38,197.01 L169.36,197.43 L168.33,197.84 L167.31,198.26 L166.29,198.68 L165.27,199.10 L164.25,199.51 L163.23,199.92 L162.21,200.33 L161.18,200.74 L160.16,201.14 L159.14,201.53 L158.12,201.91 L157.10,202.29 L156.08,202.66 L155.05,203.03 L154.03,203.39 L153.01,203.74 L151.99,204.09 L150.97,204.43 L149.95,204.76 L148.92,205.09 L147.90,205.41 L146.88,205.73 L145.86,206.04 L144.84,206.35 L143.82,206.65 L142.79,206.95 L141.77,207.24 L140.75,207.52 L139.73,207.80 L138.71,208.08 L137.69,208.35 L136.66,208.62 L135.64,208.88 L134.62,209.14 L133.60,209.40" fill="none" stroke-linejoin="round" stroke="#00ff00" stroke-width="1.4"/>
<path d="M133.60,193.30 L134.46,192.63 L135.32,191.96 L136.18,191.29 L137.04,190.62 L137.90,189.95 L138.76,189.28 L139.62,188.61 L140.47,187.93 L141.33,187.26 L142.19,186.59 L143.05,185.92 L143.91,185.25 L144.77,184.58 L145.63,183.91 L146.49,183.24 L147.35,182.58 L148.21,181.92 L149.07,181.26 L149.93,180.60 L150.79,179.95 L151.65,179.30 L152.50,178.65 L153.36,178.01 L154.22,177.37 L155.08,176.74 L155.94,176.11 L156.80,175.48 L157.66,174.86 L158.52,174.25 L159.38,173.64 L160.24,173.03 L161.10,172.44 L161.96,171.84 L162.82,171.26 L163.68,170.68 L164.53,170.11 L165.39,169.54 L166.25,168.98 L167.11,168.43 L167.97,167.88 L168.83,167.35 L169.69,166.82 L170.55,166.29 L171.41,165.77 L172.27,165.27 L173.13,164.76 L173.99,164.27 L174.85,163.79 L175.71,163.31 L176.56,162.84 L177.42,162.38 L178.28,161.92 L179.14,161.48 L180.00,161.04 L180.86,160.60 L181.72,160.18 L182.58,159.76 L183.44,159.35 L184.30,158.94 L185.16,158.54 L186.02,158.15 L186.88,157.76 L187.74,157.38 L188.59,157.00 L189.45,156.63 L190.31,156.27 L191.17,155.91 L192.03,155.55 L192.89,155.21 L193.75,154.86 L194.61,154.53 L195.47,154.20 L196.33,153.88 L197.19,153.57 L198.05,153.27 L198.91,152.98 L199.77,152.69 L200.63,152.42 L201.48,152.16 L202.34,151.91 L203.20,151.67 L204.06,151.44 L204.92,151.22 L205.78,151.01 L206.64,150.82 L207.50,150.64 L208.36,150.47 L209.22,150.31 L210.08,150.16 L210.94,150.02 L211.80,149.89 L212.66,149.77 L213.51,149.65 L214.37,149.55 L215.23,149.45 L216.09,149.36 L216.95,149.27 L217.81,149.19 L218.67,149.11 L219.53,149.04 L220.39,148.97 L221.25,148.91 L222.11,148.85 L222.97,148.79 L223.83,148.74 L224.69,148.69 L225.54,148.65 L226.40,148.62 L227.26,148.59 L228.12,148.57 L228.98,148.56 L229.84,148.56 L230.70,148.56 L231.56,148.57 L232.42,148.59 L233.28,148.62 L234.14,148.65 L235.00,148.70 L235.86,148.76 L236.72,148.82 L237.57,148.90 L238.43,148.98 L239.29,149.08 L240.15,149.18 L241.01,149.29 L241.87,149.41 L242.73,149.53 L243.59,149.66 L244.45,149.80 L245.31,149.94 L246.17,150.09 L247.03,150.24 L247.89,150.40 L248.75,150.56 L249.61,150.72 L250.46,150.89 L251.32,151.06 L252.18,151.24 L253.04,151.42 L253.90,151.60 L254.76,151.78 L255.62,151.97 L256.48,152.16 L257.34,152.36 L258.20,152.55 L259.06,152.75 L259.92,152.95 L260.78,153.16 L261.64,153.37 L262.49,153.58 L263.35,153.79 L264.21,154.00 L265.07,154.22 L265.93,154.44 L266.79,154.66 L267.65,154.88 L268.51,155.10 L269.37,155.33 L270.23,155.55 L271.09,155.78 L271.95,156.00 L272.81,156.22 L273.67,156.44 L274.52,156.66 L275.38,156.88 L276.24,157.10 L277.10,157.31 L277.96,157.52 L278.82,157.72 L279.68,157.93 L280.54,158.12 L281.40,158.32 L282.26,158.51 L283.12,158.69 L283.98,158.87 L284.84,159.04 L285.70,159.21 L286.55,159.37 L287.41,159.53 L288.27,159.69 L289.13,159.84 L289.99,159.98 L290.85,160.12 L291.71,160.25 L292.57,160.37 L293.43,160.49 L294.29,160.61 L295.15,160.72 L296.01,160.82 L296.87,160.92 L297.73,161.01 L298.58,161.09 L299.44,161.17 L300.30,161.24 L301.16,161.31 L302.02,161.37 L302.88,161.42 L303.74,161.46 L304.60,161.50 L304.60,191.20 L303.74,191.17 L302.88,191.14 L302.02,191.10 L301.16,191.04 L300.30,190.98 L299.44,190.91 L298.58,190.83 L297.73,190.74 L296.87,190.64 L296.01,190.54 L295.15,190.42 L294.29,190.30 L293.43,190.16 L292.57,190.02 L291.71,189.87 L290.85,189.71 L289.99,189.55 L289.13,189.37 L288.27,189.19 L287.41,188.99 L286.55,188.79 L285.70,188.58 L284.84,188.37 L283.98,188.14 L283.12,187.91 L282.26,187.67 L281.40,187.42 L280.54,187.16 L279.68,186.90 L278.82,186.63 L277.96,186.35 L277.10,186.07 L276.24,185.77 L275.38,185.48 L274.52,185.18 L273.67,184.87 L272.81,184.57 L271.95,184.25 L271.09,183.94 L270.23,183.63 L269.37,183.31 L268.51,182.99 L267.65,182.67 L266.79,182.36 L265.93,182.04 L265.07,181.73 L264.21,181.41 L263.35,181.10 L262.49,180.80 L261.64,180.49 L260.78,180.19 L259.92,179.89 L259.06,179.60 L258.20,179.30 L257.34,179.01 L256.48,178.73 L255.62,178.45 L254.76,178.17 L253.90,177.89 L253.04,177.62 L252.18,177.36 L251.32,177.09 L250.46,176.84 L249.61,176.58 L248.75,176.34 L247.89,176.09 L247.03,175.86 L246.17,175.62 L245.31,175.40 L244.45,175.18 L243.59,174.96 L242.73,174.75 L241.87,174.55 L241.01,174.36 L240.15,174.17 L239.29,173.99 L238.43,173.82 L237.57,173.65 L236.72,173.49 L235.86,173.34 L235.00,173.20 L234.14,173.07 L233.28,172.94 L232.42,172.82 L231.56,172.72 L230.70,172.61 L229.84,172.52 L228.98,172.44 L228.12,172.36 L227.26,172.29 L226.40,172.23 L225.54,172.17 L224.69,172.13 L223.83,172.09 L222.97,172.06 L222.11,172.03 L221.25,172.01 L220.39,172.00 L219.53,172.00 L218.67,172.00 L217.81,172.01 L216.95,172.03 L216.09,172.05 L215.23,172.08 L214.37,172.12 L213.51,172.16 L212.66,172.22 L211.80,172.28 L210.94,172.34 L210.08,172.42 L209.22,172.50 L208.36,172.58 L207.50,172.68 L206.64,172.78 L205.78,172.89 L204.92,173.01 L204.06,173.14 L203.20,173.27 L202.34,173.41 L201.48,173.56 L200.63,173.71 L199.77,173.88 L198.91,174.05 L198.05,174.23 L197.19,174.42 L196.33,174.61 L195.47,174.81 L194.61,175.03 L193.75,175.24 L192.89,175.47 L192.03,175.71 L191.17,175.95 L190.31,176.21 L189.45,176.47 L188.59,176.74 L187.74,177.01 L186.88,177.30 L186.02,177.59 L185.16,177.89 L184.30,178.20 L183.44,178.52 L182.58,178.84 L181.72,179.18 L180.86,179.51 L180.00,179.86 L179.14,180.21 L178.28,180.57 L177.42,180.94 L176.56,181.31 L175.71,181.69 L174.85,182.07 L173.99,182.46 L173.13,182.86 L172.27,183.26 L171.41,183.66 L170.55,184.08 L169.69,184.49 L168.83,184.92 L167.97,185.34 L167.11,185.77 L166.25,186.21 L165.39,186.65 L164.53,187.09 L163.68,187.54 L162.82,187.99 L161.96,188.45 L161.10,188.91 L160.24,189.37 L159.38,189.84 L158.52,190.30 L157.66,190.77 L156.80,191.25 L155.94,191.72 L155.08,192.19 L154.22,192.67 L153.36,193.14 L152.50,193.62 L151.65,194.09 L150.79,194.57 L149.93,195.04 L149.07,195.51 L148.21,195.98 L147.35,196.44 L146.49,196.91 L145.63,197.37 L144.77,197.82 L143.91,198.27 L143.05,198.72 L142.19,199.16 L141.33,199.59 L140.47,200.02 L139.62,200.45 L138.76,200.86 L137.90,201.27 L137.04,201.68 L136.18,202.07 L135.32,202.46 L134.46,202.83 L133.60,203.20" fill="none" stroke-linejoin="round" stroke="#ff0000" stroke-width="1.4"/>
<path d="M129.39,202.65 L130.40,202.07 L131.40,201.49 L132.40,200.91 L133.40,200.32 L134.41,199.73 L135.41,199.13 L136.41,198.53 L137.41,197.92 L138.42,197.31 L139.42,196.69 L140.42,196.06 L141.43,195.44 L142.43,194.80 L143.43,194.17 L144.43,193.53 L145.44,192.88 L146.44,192.23 L147.44,191.57 L148.44,190.91 L149.45,190.25 L150.45,189.58 L151.45,188.91 L152.45,188.23 L153.46,187.55 L154.46,186.87 L155.46,186.18 L156.46,185.48 L157.47,184.79 L158.47,184.09 L159.47,183.38 L160.47,182.67 L161.48,181.96 L162.48,181.25 L163.48,180.53 L164.48,179.80 L165.49,179.08 L166.49,178.35 L167.49,177.61 L168.49,176.88 L169.50,176.14 L170.50,175.39 L171.50,174.65 L172.50,173.90 L173.51,173.14 L174.51,172.39 L175.51,171.63 L176.51,170.86 L177.52,170.10 L178.52,169.33 L179.52,168.56 L180.52,167.79 L181.53,167.01 L182.53,166.23 L183.53,165.45 L184.53,164.67 L185.54,163.88 L186.54,163.09 L187.54,162.30 L188.54,161.50 L189.55,160.71 L190.55,159.91 L191.55,159.11 L192.55,158.31 L193.56,157.50 L194.56,156.69 L195.56,155.88 L196.56,155.07 L197.57,154.26 L198.57,153.45 L199.57,152.63 L200.57,151.81 L201.58,150.99 L202.58,150.17 L203.58,149.35 L204.58,148.52 L205.59,147.70 L206.59,146.87 L207.59,146.04 L208.59,145.21 L209.60,144.38 L210.60,143.55 L211.60,142.71 L212.60,141.88 L213.61,141.04 L214.61,140.21 L215.61,139.37 L216.62,138.53 L217.62,137.69 L218.62,136.85 L219.62,136.01 L220.63,135.17 L221.63,134.33 L222.63,133.49 L223.63,132.64 L224.64,131.80 L225.64,130.96 L226.64,130.11 L227.64,129.27 L228.65,128.42 L229.65,127.58 L230.65,126.73 L231.65,125.89 L232.66,125.04 L233.66,124.20 L234.66,123.35 L235.66,122.51 L236.67,121.66 L237.67,120.82 L238.67,119.97 L239.67,119.13 L240.68,118.29 L241.68,117.45 L242.68,116.60 L243.68,115.76 L244.69,114.92 L245.69,114.08 L246.69,113.24 L247.69,112.40 L248.70,111.56 L249.70,110.73 L250.70,109.89 L251.70,109.06 L252.71,108.22 L253.71,107.39 L254.71,106.56 L255.71,105.73 L256.72,104.90 L257.72,104.07 L258.72,103.24 L259.72,102.42 L260.73,101.60 L261.73,100.77 L262.73,99.95 L263.73,99.14 L264.74,98.32 L265.74,97.50 L266.74,96.69 L267.74,95.88 L268.75,95.07 L269.75,94.26 L270.75,93.46 L271.75,92.65 L272.76,91.85 L273.76,91.05 L274.76,90.25 L275.76,89.46 L276.77,88.67 L277.77,87.88 L278.77,87.09 L279.77,86.30 L280.78,85.52 L281.78,84.74 L282.78,83.97 L283.78,83.19 L284.79,82.42 L285.79,81.65 L286.79,80.88 L287.79,80.12 L288.80,79.36 L289.80,78.60 L290.80,77.85 L291.80,77.10 L292.81,76.35 L293.81,75.61 L294.81,74.86 L295.82,74.13 L296.82,73.39 L297.82,72.66 L298.82,71.93 L299.83,71.21 L300.83,70.49 L301.83,69.77 L302.83,69.06 L303.84,68.35 L304.84,67.64 L305.84,66.94 L306.84,66.24 L307.85,65.55 L308.85,64.86 L309.85,64.17 L310.85,63.49 L311.86,62.81 L312.86,62.14 L313.86,61.47 L314.86,60.80 L315.87,60.14 L316.87,59.48 L317.87,58.83 L318.87,58.19 L319.88,57.54 L320.88,56.90 L321.88,56.27 L322.88,55.64 L323.89,55.02 L324.89,54.40 L325.89,53.78 L326.89,53.17 L327.90,52.57 L328.90,51.97 L329.90,51.37 L330.90,50.78 L331.91,50.20 L332.91,49.62 L333.91,49.04 L334.91,48.47 L335.92,47.91 L336.92,47.35 L337.92,46.80 L338.92,46.25 L339.93,45.71 L340.93,45.17 L341.93,44.64 L342.93,44.11 L343.94,43.59 L344.94,43.08 L345.94,42.57 L346.94,42.07 L347.95,41.57 L348.95,41.08 L349.95,40.60 L350.95,40.12 L351.96,39.64 L352.96,39.18 L353.96,38.72 L354.96,38.26 L355.97,37.81 L356.97,37.37 L357.97,36.94 L358.97,36.51 L359.98,36.08 L360.98,35.67 L361.98,35.26 L362.98,34.85 L363.99,34.46 L364.99,34.07 L365.99,33.68 L366.99,33.31 L368.00,32.94 L369.00,32.57" fill="none" stroke="#000" stroke-width="1.7" stroke-dasharray="7.2 4.35"/>
</g>
<g class="sans"><text x="48.1" y="285" text-anchor="middle">0</text><text x="101.6" y="285" text-anchor="middle">1</text><text x="155.1" y="285" text-anchor="middle">2</text><text x="208.5" y="285" text-anchor="middle">3</text><text x="262.0" y="285" text-anchor="middle">4</text><text x="315.5" y="285" text-anchor="middle">5</text><text x="369.0" y="285" text-anchor="middle">6</text><text x="45.5" y="277.1" text-anchor="end">-0.1</text><text x="45.5" y="232.3" text-anchor="end">0</text><text x="45.5" y="187.5" text-anchor="end">0.1</text><text x="45.5" y="142.8" text-anchor="end">0.2</text><text x="45.5" y="98.0" text-anchor="end">0.3</text><text x="45.5" y="53.2" text-anchor="end">0.4</text></g>
<!-- legend -->
<g fill="none">
<path d="M68,88.5 h9.9" stroke="#0000ff" stroke-width="1.4"/>
<path d="M68,101.5 h9.9" stroke="#00ff00" stroke-width="1.4"/>
<path d="M68,114.3 h9.9" stroke="#ff0000" stroke-width="1.4"/>
<path d="M68,126.9 h7.4" stroke="#000" stroke-width="1.9"/>
<path d="M68,138.8 h7.4" stroke="#ff00ff" stroke-width="1.9"/>
<path d="M109.9,134.3 h13.2" stroke="#000" stroke-width="0.7"/>
<path d="M100.3,87.45 h5.1" stroke="#000" stroke-width="0.7"/>
</g>
<g class="serif" font-size="9px">
<text x="84.1" y="90.1">τ</text><text x="87.9" y="93.5" font-size="6.4px">0</text><text x="93.1" y="90.1">=</text><text x="105.3" y="90.1">0.1</text>
<text x="84.1" y="103.0">τ</text><text x="87.9" y="106.4" font-size="6.4px">0</text><text x="93.1" y="103.0">= 0.0</text>
<text x="84.1" y="115.9">τ</text><text x="87.9" y="119.3" font-size="6.4px">0</text><text x="93.1" y="115.9">= 0.15</text>
<text x="84.0" y="128.8">2-loop perturb.</text>
<text x="84.0" y="141.7">4-loop MS</text>
</g>
<text class="serif" font-size="13px" x="160.5" y="80.6" textLength="98" lengthAdjust="spacing">c = 0.3; L = 12-24</text>
<g transform="translate(15.8,180) rotate(-90)" class="serif">
<text transform="translate(0.0,0.6)" font-size="14px">β</text>
<text transform="translate(7.3,6.4)" font-size="10px">3/2</text>
<text transform="translate(19.6,0.6)" font-size="14px">(</text>
<text transform="translate(23.4,0.6)" font-size="14px" font-style="italic">g</text>
<text transform="translate(30.6,-6.6)" font-size="10px">2</text>
<text transform="translate(35.0,0.6)" font-size="14px">)</text>
</g>
<g class="serif">
<text font-size="14px" font-style="italic" x="200.9" y="302.8">g</text>
<text font-size="10px" font-style="italic" x="207.6" y="308.3">c</text>
<text font-size="10px" x="211.9" y="295.2">2</text>
</g>
</svg>
</body></html>
